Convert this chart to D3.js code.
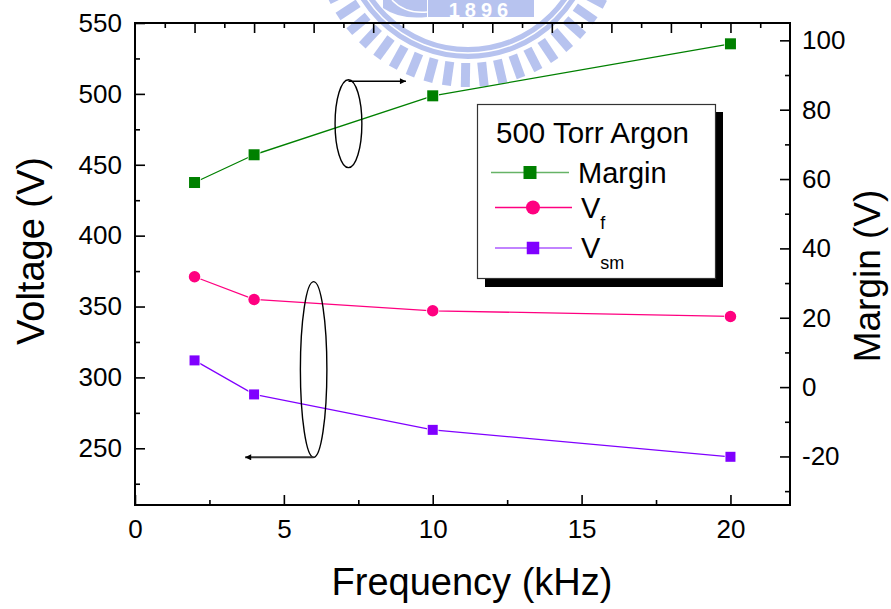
<!DOCTYPE html>
<html>
<head>
<meta charset="utf-8">
<script src="https://cdn.jsdelivr.net/npm/d3@7/dist/d3.min.js"></script>
<style>
  html, body { margin: 0; padding: 0; background: #fff; }
  svg { display: block; }
  text { font-family: "Liberation Sans", Arial, sans-serif; fill: #000; }
</style>
</head>
<body>
<svg id="chart" width="891" height="609"></svg>
<script>
// ---- data ----
const freq = [2, 4, 10, 20];                 // kHz
const margin = [59, 67, 84, 99];             // Margin (V), right axis
const vf = [371, 355, 347, 343];             // Vf (V), left axis
const vsm = [312, 288, 263, 244];            // Vsm (V), left axis
const xTicks = [0, 5, 10, 15, 20];
const xMinor = [2.5, 7.5, 12.5, 17.5];
const xTopTicks = [2, 4, 6, 8, 10, 12, 14, 16, 18, 20];
const xTopMinor = [1, 3, 5, 7, 9, 11, 13, 15, 17, 19, 21];
const leftTicks = [250, 300, 350, 400, 450, 500, 550];
const leftMinor = [225, 275, 325, 375, 425, 475, 525];
const rightTicks = [-20, 0, 20, 40, 60, 80, 100];
const rightMinor = [-30, -10, 10, 30, 50, 70, 90];
const legendTitle = "500 Torr Argon";
const seriesNames = ["Margin", "V", "V"];
const seriesSubs = ["", "f", "sm"];

// ---- layout ----
const svg = d3.select("#chart");
const L = 135, T = 23, W = 655, H = 482;
const x = d3.scaleLinear().domain([0, 22]).range([L, L + W]);
const yL = d3.scaleLinear().domain([210, 550]).range([T + H, T]);
const yR = d3.scaleLinear().domain([-34, 105]).range([T + H, T]);
const fmt = d => String(d);

// ---- watermark (faint logo) ----
const wm = svg.append("g");
const wmC = [468, -68], wmCol = "#b7c3ef";
wm.append("circle").attr("cx", wmC[0]).attr("cy", wmC[1]).attr("r", 121)
  .attr("fill", "none").attr("stroke", wmCol).attr("stroke-width", 12);
wm.append("circle").attr("cx", wmC[0]).attr("cy", wmC[1]).attr("r", 121)
  .attr("fill", "none").attr("stroke", "#fff").attr("stroke-width", 1.5);
d3.range(0, 360, 7).forEach(a => {
  wm.append("rect")
    .attr("x", 131).attr("y", -4.5).attr("width", 24).attr("height", 9)
    .attr("fill", wmCol)
    .attr("transform", `translate(${wmC[0]},${wmC[1]}) rotate(${a})`);
});
wm.append("rect").attr("x", 428).attr("y", -10).attr("width", 106).attr("height", 27).attr("fill", wmCol);
wm.append("text").attr("x", 481).attr("y", 17).attr("text-anchor", "middle")
  .style("font-size", "20px").style("font-weight", "bold").style("letter-spacing", "5px")
  .style("fill", "#fff").text("1896");
wm.append("path").attr("d", "M383,0 L427,0 L427,17 Q400,20 383,8 Z").attr("fill", wmCol);
wm.append("path").attr("d", "M392,0 Q405,14 427,12").attr("fill", "none").attr("stroke", "#fff").attr("stroke-width", 1.5);

// ---- axes ----
function styleAxis(g) {
  g.select(".domain").remove();
  g.selectAll(".tick line").attr("stroke", "#000").attr("stroke-width", 1.6);
  g.selectAll(".tick text").style("font-size", "26px").style("font-family", '"Liberation Sans", Arial, sans-serif');
}
// bottom
svg.append("g").attr("transform", `translate(0,${T + H})`)
  .call(d3.axisBottom(x).tickValues(xTicks).tickSize(-10).tickPadding(15).tickFormat(fmt))
  .call(styleAxis);
svg.append("g").attr("transform", `translate(0,${T + H})`)
  .call(d3.axisBottom(x).tickValues(xMinor).tickSize(-5).tickFormat(""))
  .call(styleAxis);
// top
svg.append("g").attr("transform", `translate(0,${T})`)
  .call(d3.axisTop(x).tickValues(xTopTicks).tickSize(-10).tickFormat(""))
  .call(styleAxis);
svg.append("g").attr("transform", `translate(0,${T})`)
  .call(d3.axisTop(x).tickValues(xTopMinor).tickSize(-5).tickFormat(""))
  .call(styleAxis);
// left
svg.append("g").attr("transform", `translate(${L},0)`)
  .call(d3.axisLeft(yL).tickValues(leftTicks).tickSize(-10).tickPadding(13).tickFormat(fmt))
  .call(styleAxis);
svg.append("g").attr("transform", `translate(${L},0)`)
  .call(d3.axisLeft(yL).tickValues(leftMinor).tickSize(-5).tickFormat(""))
  .call(styleAxis);
// right
svg.append("g").attr("transform", `translate(${L + W},0)`)
  .call(d3.axisRight(yR).tickValues(rightTicks).tickSize(-10).tickPadding(12).tickFormat(fmt))
  .call(styleAxis);
svg.append("g").attr("transform", `translate(${L + W},0)`)
  .call(d3.axisRight(yR).tickValues(rightMinor).tickSize(-5).tickFormat(""))
  .call(styleAxis);

// frame
svg.append("rect").attr("x", L).attr("y", T).attr("width", W).attr("height", H)
  .attr("fill", "none").attr("stroke", "#000").attr("stroke-width", 2);

// axis titles
svg.append("text").attr("transform", `translate(44,251) rotate(-90)`).attr("text-anchor", "middle")
  .style("font-size", "38px").text("Voltage (V)");
svg.append("text").attr("transform", `translate(880,276) rotate(-90)`).attr("text-anchor", "middle")
  .style("font-size", "37px").text("Margin (V)");
svg.append("text").attr("x", 472).attr("y", 595).attr("text-anchor", "middle")
  .style("font-size", "38px").text("Frequency (kHz)");

// ---- series ----
const series = [
  { vals: margin, y: yR, color: "#008000", shape: "square", size: 11 },
  { vals: vf, y: yL, color: "#ff0080", shape: "circle", size: 11.5 },
  { vals: vsm, y: yL, color: "#8000ff", shape: "square", size: 10 }
];
series.forEach(s => {
  const pts = freq.map((f, i) => [x(f), s.y(s.vals[i])]);
  svg.append("path").attr("d", d3.line()(pts))
    .attr("fill", "none").attr("stroke", s.color).attr("stroke-width", 1.3);
  pts.forEach(p => {
    if (s.shape === "square") {
      svg.append("rect").attr("x", p[0] - s.size / 2).attr("y", p[1] - s.size / 2)
        .attr("width", s.size).attr("height", s.size)
        .attr("fill", s.color).attr("stroke", "#fff").attr("stroke-width", 1.5).attr("paint-order", "stroke");
    } else {
      svg.append("circle").attr("cx", p[0]).attr("cy", p[1]).attr("r", s.size / 2)
        .attr("fill", s.color).attr("stroke", "#fff").attr("stroke-width", 1.5).attr("paint-order", "stroke");
    }
  });
});

// ---- annotations (ellipses + arrows) ----
svg.append("defs").append("marker").attr("id", "arr")
  .attr("viewBox", "0 0 10 10").attr("refX", 10).attr("refY", 5)
  .attr("markerWidth", 9).attr("markerHeight", 6).attr("markerUnits", "userSpaceOnUse")
  .attr("orient", "auto")
  .append("path").attr("d", "M0,0 L10,5 L0,10 Z").attr("fill", "#000");

// upper ellipse -> right axis
const e1 = { cx: 7.17, cy: 479, ry: 31, rx: 0.45, toX: 9.1 };
svg.append("ellipse").attr("cx", x(e1.cx)).attr("cy", yL(e1.cy))
  .attr("rx", x(e1.rx) - x(0)).attr("ry", yL(0) - yL(e1.ry))
  .attr("fill", "none").attr("stroke", "#000").attr("stroke-width", 1.4);
svg.append("line").attr("x1", x(e1.cx)).attr("y1", yL(e1.cy + e1.ry) + 1.5)
  .attr("x2", x(e1.toX)).attr("y2", yL(e1.cy + e1.ry) + 1.5)
  .attr("stroke", "#000").attr("stroke-width", 1.4).attr("marker-end", "url(#arr)");

// lower ellipse -> left axis
const e2 = { cx: 6.0, cy: 305.6, ry: 62, rx: 0.445, toX: 3.7 };
svg.append("ellipse").attr("cx", x(e2.cx)).attr("cy", yL(e2.cy))
  .attr("rx", x(e2.rx) - x(0)).attr("ry", yL(0) - yL(e2.ry))
  .attr("fill", "none").attr("stroke", "#000").attr("stroke-width", 1.4);
svg.append("line").attr("x1", x(e2.cx)).attr("y1", yL(e2.cy - e2.ry))
  .attr("x2", x(e2.toX)).attr("y2", yL(e2.cy - e2.ry))
  .attr("stroke", "#333").attr("stroke-width", 2).attr("marker-end", "url(#arr)");

// ---- legend ----
const lg = svg.append("g");
lg.append("rect").attr("x", 485).attr("y", 112).attr("width", 238).attr("height", 175).attr("fill", "#000");
lg.append("rect").attr("x", 477.5).attr("y", 104.5).attr("width", 238).attr("height", 174)
  .attr("fill", "#fff").attr("stroke", "#333").attr("stroke-width", 1.2);
lg.append("text").attr("x", 496).attr("y", 143).style("font-size", "29.5px").text(legendTitle);
const rowY = [172.5, 207.5, 248];
const rowX = [[491, 569, 530, 578], [495, 572, 533, 581], [495, 572, 533, 581]];
const legSizes = [13, 14, 12.5];
const legOpacity = [0.6, 1, 0.65];
series.forEach((s, i) => {
  const [x1, x2, mx, tx] = rowX[i], yy = rowY[i];
  lg.append("line").attr("x1", x1).attr("x2", x2).attr("y1", yy).attr("y2", yy)
    .attr("stroke", s.color).attr("stroke-opacity", legOpacity[i]).attr("stroke-width", 1.6);
  const sz = legSizes[i];
  if (s.shape === "square") {
    lg.append("rect").attr("x", mx - sz / 2).attr("y", yy - sz / 2).attr("width", sz).attr("height", sz)
      .attr("fill", s.color);
  } else {
    lg.append("circle").attr("cx", mx).attr("cy", yy).attr("r", sz / 2).attr("fill", s.color);
  }
  const t = lg.append("text").attr("x", tx).attr("y", yy + 10).style("font-size", "29px").text(seriesNames[i]);
  if (seriesSubs[i]) {
    t.append("tspan").attr("dy", 11).style("font-size", "18px").text(seriesSubs[i]);
  }
});
</script>
</body>
</html>
